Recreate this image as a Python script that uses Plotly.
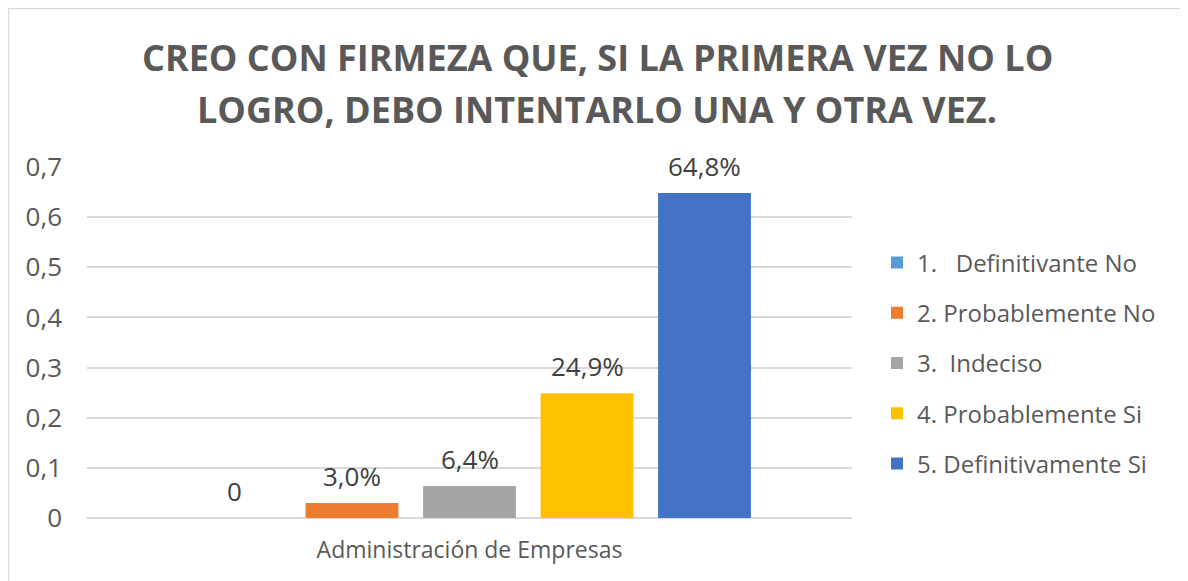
import plotly.graph_objects as go

category = ["Administración de Empresas"]
series_names = ["1.   Definitivante No", "2. Probablemente No", "3.  Indeciso",
                "4. Probablemente Si", "5. Definitivamente Si"]
values = [0.0, 0.030, 0.064, 0.249, 0.648]
labels = ["0", "3,0%", "6,4%", "24,9%", "64,8%"]
colors = ["#5B9BD5", "#ED7D31", "#A5A5A5", "#FFC000", "#4472C4"]
y_ticks = [0, 0.1, 0.2, 0.3, 0.4, 0.5, 0.6, 0.7]
title_lines = ["CREO CON FIRMEZA QUE, SI LA PRIMERA VEZ NO LO",
               "LOGRO, DEBO INTENTARLO UNA Y OTRA VEZ."]

FONT = "Open Sans"
BARGAP, GROUPGAP = 0.232, 0.21

W, H = 1188, 581
OFF = 8  # page body margin offset
L, R, T, B = 87 - OFF, 344, 167 - OFF, 71
pw, ph = W - L - R, H - T - B

def px(x):
    return (x - OFF - L) / pw

def py(y):
    return (H - B - (y - OFF)) / ph

fig = go.Figure()
n = len(values)
slot = (1 - BARGAP) / n
for i, (name, v, lab, col) in enumerate(zip(series_names, values, labels, colors)):
    fig.add_trace(go.Bar(
        x=category, y=[v], name=name,
        marker=dict(color=col, line=dict(width=0)),
        legendgroup=str(i),
    ))
    offset = (-(1 - BARGAP) / 2 + slot * (i + 0.5)) * pw
    fig.add_annotation(
        x=category[0], y=v, text=lab, showarrow=False,
        xshift=offset, yshift=27, yanchor="middle",
        font=dict(family=FONT, size=26, color="#404040"),
    )

for line, yc in zip(title_lines, [57, 110]):
    fig.add_annotation(
        xref="paper", yref="paper", x=px(597), y=py(yc),
        xanchor="center", yanchor="middle", showarrow=False, text=line,
        font=dict(family=FONT, size=36, color="#595959", weight="bold"),
    )

fig.update_layout(
    width=W, height=H,
    margin=dict(l=L, r=R, t=T, b=B),
    paper_bgcolor="white", plot_bgcolor="white",
    separators=",.",
    barmode="group", bargap=BARGAP, bargroupgap=GROUPGAP,
    font=dict(family=FONT, color="#595959"),
    showlegend=True,
    legend=dict(
        x=px(877), xanchor="left", y=py(363), yanchor="middle",
        font=dict(family=FONT, size=24, color="#595959"),
        traceorder="grouped", tracegroupgap=16,
        bgcolor="rgba(0,0,0,0)", itemclick=False,
    ),
    xaxis=dict(
        showgrid=False, showline=False, zeroline=False,
        tickfont=dict(family=FONT, size=23, color="#595959"),
        ticks="", ticklabelstandoff=16,
    ),
    yaxis=dict(
        range=[0, 0.7], tickvals=y_ticks,
        showgrid=True, gridcolor="#D9D9D9", gridwidth=1.5,
        zeroline=True, zerolinecolor="#D9D9D9", zerolinewidth=1.5,
        showline=False,
        tickfont=dict(family=FONT, size=26, color="#595959"),
        ticks="", ticklabelstandoff=24,
    ),
    shapes=[dict(
        type="rect", xref="paper", yref="paper",
        x0=px(8.5), x1=px(1184.5), y0=py(8.5), y1=py(600),
        line=dict(color="#D9D9D9", width=1.5), fillcolor="rgba(0,0,0,0)",
        layer="below",
    )],
)

fig.write_html("out.html")
